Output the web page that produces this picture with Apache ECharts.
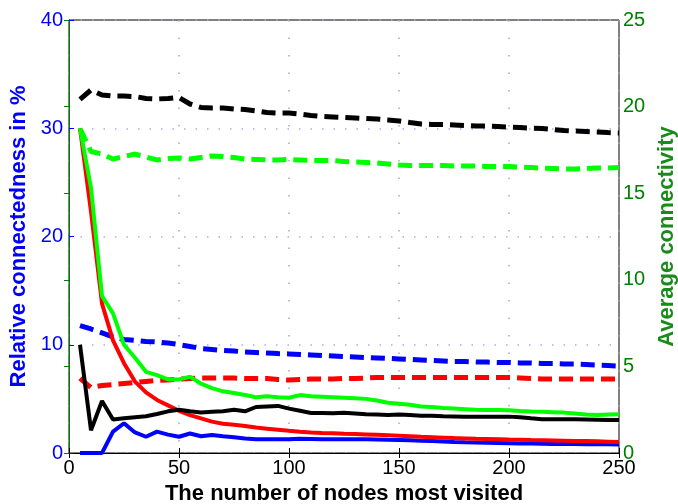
<!DOCTYPE html>
<html>
<head>
<meta charset="utf-8">
<script src="https://cdn.jsdelivr.net/npm/echarts@6/dist/echarts.min.js"></script>
<style>
    html, body { margin: 0; padding: 0; background: #fff; }
    #chart { width: 678px; height: 504px; }
</style>
</head>
<body>
<div id="chart"></div>
<script>
// number of nodes (x)
const nodes = [5, 10, 15, 20, 25, 30, 35, 40, 45, 50, 55, 60, 65, 70, 75, 80, 85, 90, 95, 100,
    105, 110, 115, 120, 125, 130, 135, 140, 145, 150, 155, 160, 165, 170, 175, 180, 185, 190, 195, 200,
    205, 210, 215, 220, 225, 230, 235, 240, 245, 250];

// relative connectedness in % (left axis, solid)
const connBlack = [10.0, 2.1, 4.8, 3.1, 3.2, 3.3, 3.4, 3.6, 3.85, 4.0, 3.85, 3.75, 3.8, 3.85, 4.0, 3.85, 4.25, 4.3, 4.35, 4.1,
    3.9, 3.7, 3.7, 3.67, 3.72, 3.65, 3.58, 3.55, 3.52, 3.55, 3.5, 3.45, 3.45, 3.4, 3.38, 3.36, 3.36, 3.36, 3.36, 3.36,
    3.3, 3.2, 3.12, 3.11, 3.11, 3.11, 3.1, 3.08, 3.06, 3.05];
const connGreen = [30, 24.5, 14.5, 12.9, 10.0, 8.8, 7.5, 7.2, 6.8, 6.8, 7.05, 6.4, 6.0, 5.7, 5.55, 5.35, 5.15, 5.25, 5.15, 5.1,
    5.35, 5.25, 5.2, 5.15, 5.1, 5.05, 5.0, 4.85, 4.65, 4.55, 4.45, 4.3, 4.25, 4.15, 4.1, 4.05, 4.0, 3.98, 3.97, 3.95,
    3.88, 3.83, 3.8, 3.77, 3.73, 3.65, 3.55, 3.5, 3.55, 3.57];
const connRed = [30, 22.3, 13.8, 10.4, 8.3, 6.6, 5.6, 4.9, 4.4, 3.9, 3.5, 3.2, 2.9, 2.7, 2.6, 2.5, 2.35, 2.25, 2.15, 2.05,
    1.97, 1.9, 1.85, 1.82, 1.78, 1.75, 1.72, 1.68, 1.64, 1.6, 1.55, 1.5, 1.46, 1.42, 1.38, 1.35, 1.32, 1.3, 1.28, 1.25,
    1.23, 1.2, 1.18, 1.16, 1.14, 1.12, 1.1, 1.08, 1.05, 1.02];
const connBlue = [0, 0, 0, 1.97, 2.75, 1.9, 1.5, 1.97, 1.7, 1.5, 1.8, 1.55, 1.66, 1.55, 1.45, 1.35, 1.27, 1.27, 1.27, 1.28,
    1.32, 1.3, 1.28, 1.27, 1.27, 1.27, 1.27, 1.25, 1.22, 1.2, 1.17, 1.14, 1.1, 1.06, 1.02, 0.99, 0.97, 0.94, 0.92, 0.9,
    0.88, 0.87, 0.85, 0.84, 0.83, 0.82, 0.81, 0.8, 0.8, 0.78];

// average connectivity (right axis, dashed)
const avgBlack = [20.42, 20.96, 20.67, 20.61, 20.61, 20.58, 20.47, 20.44, 20.47, 20.53, 20.15, 19.95, 19.92, 19.92, 19.86, 19.83, 19.75, 19.66, 19.63, 19.63,
    19.57, 19.49, 19.43, 19.40, 19.37, 19.34, 19.31, 19.28, 19.23, 19.17, 19.08, 19.0, 18.97, 18.97, 18.94, 18.91, 18.88, 18.88, 18.85, 18.82,
    18.79, 18.76, 18.74, 18.68, 18.62, 18.59, 18.56, 18.53, 18.50, 18.48];
const avgGreen = [18.73, 17.41, 17.26, 16.97, 17.12, 17.26, 17.09, 16.92, 17.0, 17.03, 16.97, 17.06, 17.15, 17.12, 17.06, 16.97, 16.95, 16.92, 16.92, 16.95,
    16.92, 16.89, 16.89, 16.89, 16.83, 16.80, 16.77, 16.74, 16.69, 16.63, 16.60, 16.60, 16.60, 16.60, 16.57, 16.57, 16.57, 16.54, 16.54, 16.54,
    16.51, 16.48, 16.45, 16.43, 16.40, 16.40, 16.43, 16.45, 16.45, 16.48];
const avgBlue = [7.36, 7.16, 6.93, 6.70, 6.55, 6.50, 6.44, 6.41, 6.35, 6.26, 6.15, 6.03, 5.98, 5.92, 5.89, 5.83, 5.80, 5.77, 5.74, 5.72,
    5.69, 5.66, 5.63, 5.60, 5.57, 5.54, 5.51, 5.49, 5.46, 5.43, 5.40, 5.37, 5.34, 5.31, 5.28, 5.28, 5.25, 5.25, 5.23, 5.23,
    5.20, 5.20, 5.17, 5.17, 5.14, 5.14, 5.11, 5.08, 5.05, 5.02];
const avgRed = [4.31, 3.78, 3.90, 3.95, 4.01, 4.07, 4.13, 4.19, 4.21, 4.27, 4.30, 4.33, 4.33, 4.33, 4.33, 4.30, 4.30, 4.30, 4.24, 4.21,
    4.24, 4.27, 4.27, 4.27, 4.30, 4.30, 4.33, 4.36, 4.36, 4.36, 4.36, 4.36, 4.36, 4.36, 4.36, 4.36, 4.36, 4.36, 4.36, 4.36,
    4.33, 4.30, 4.27, 4.27, 4.27, 4.27, 4.27, 4.27, 4.27, 4.27];

const pairs = arr => nodes.map((n, i) => [n, arr[i]]);

const chart = echarts.init(document.getElementById('chart'));
const font = 'Liberation Sans, Arial, sans-serif';

function solid(color, data) {
    return {
        type: 'line', yAxisIndex: 0, data: pairs(data), showSymbol: false,
        lineStyle: {color: color, width: 4}, itemStyle: {color: color}
    };
}
function dashed(color, data) {
    return {
        type: 'line', yAxisIndex: 1, data: pairs(data), showSymbol: false,
        lineStyle: {color: color, width: 5, type: [14, 7]}, itemStyle: {color: color}
    };
}

chart.setOption({
    animation: false,
    grid: {
        left: 69, right: 59, top: 20, bottom: 51, outerBoundsMode: 'none', containLabel: false,
        show: true, borderColor: '#000', borderWidth: 1
    },
    xAxis: [{
        type: 'value', min: 0, max: 250, interval: 50,
        name: 'The number of nodes most visited', nameLocation: 'middle', nameGap: 28,
        nameTextStyle: {fontFamily: font, fontSize: 22, fontWeight: 'bold', color: '#000'},
        axisLine: {lineStyle: {color: '#000', width: 1}},
        axisTick: {inside: true, length: 5, lineStyle: {color: '#000'}},
        axisLabel: {fontFamily: font, fontSize: 20, color: '#000', margin: 5},
        splitLine: {show: true, lineStyle: {color: '#aaaaaa', width: 1.5, type: [1.5, 16]}}
    }, {
        type: 'value', min: 0, max: 250, interval: 50, position: 'top',
        axisLine: {show: false},
        axisTick: {inside: true, length: 5, lineStyle: {color: '#000'}},
        axisLabel: {show: false}, splitLine: {show: false}
    }],
    yAxis: [{
        type: 'value', min: 0, max: 40, interval: 10,
        name: 'Relative connectedness in %', nameLocation: 'middle', nameGap: 31,
        nameTextStyle: {fontFamily: font, fontSize: 22, fontWeight: 'bold', color: '#0000ff'},
        axisLine: {show: true, lineStyle: {color: '#0000ff', width: 1}},
        axisTick: {show: true, inside: true, length: 5, lineStyle: {color: '#0000ff'}},
        axisLabel: {fontFamily: font, fontSize: 20, color: '#0000ff', margin: 6},
        splitLine: {show: true, lineStyle: {color: '#a8a8ff', width: 1.5, type: [1.5, 10]}}
    }, {
        type: 'value', min: 0, max: 25, interval: 5, position: 'right',
        name: 'Average connectivity', nameLocation: 'middle', nameGap: 30, nameRotate: 90,
        nameTextStyle: {fontFamily: font, fontSize: 22, fontWeight: 'bold', color: '#1a8a1a'},
        axisLine: {show: true, lineStyle: {color: '#008000', width: 1}},
        axisTick: {show: true, inside: true, length: 5, lineStyle: {color: '#008000'}},
        axisLabel: {fontFamily: font, fontSize: 20, color: '#008000', margin: 4},
        splitLine: {show: false}
    }],
    series: [
        dashed('#000000', avgBlack),
        dashed('#00ff00', avgGreen),
        dashed('#0000ff', avgBlue),
        dashed('#ff0000', avgRed),
        solid('#0000ff', connBlue),
        solid('#ff0000', connRed),
        solid('#000000', connBlack),
        solid('#00ff00', connGreen)
    ]
});
</script>
</body>
</html>
